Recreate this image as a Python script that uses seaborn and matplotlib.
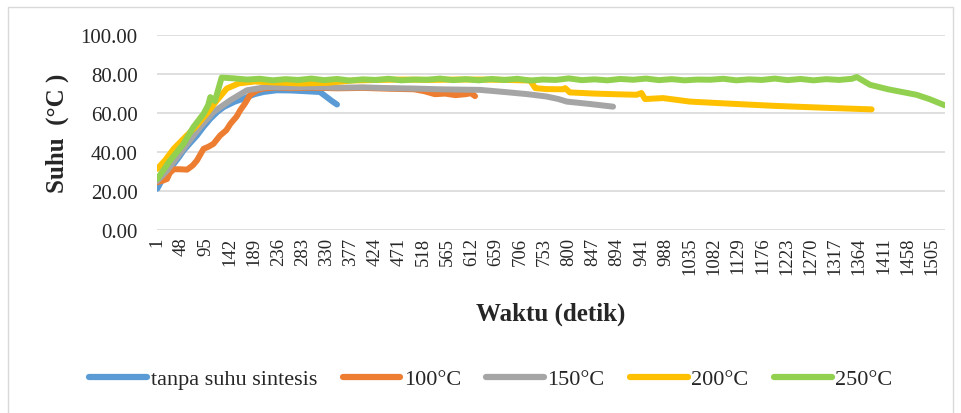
import numpy as np
import pandas as pd
import seaborn as sns
import matplotlib.pyplot as plt
from matplotlib.lines import Line2D

# data (waktu index, suhu in degC)
blue_t = [1, 13, 24, 33, 44, 52, 65, 78, 90, 104, 118, 130, 150, 168, 190, 207, 233, 260, 290, 317, 330, 340, 350]
blue_y = [21.0, 26.9, 30.5, 33.7, 37.5, 40.6, 44.5, 48.3, 52.5, 56.9, 60.5, 62.9, 65.5, 67.2, 69.5, 70.6, 71.5, 71.4, 71.0, 70.6, 68.0, 66.0, 64.2]

orange_t = [1, 10, 20, 25, 33, 45, 59, 70, 78, 91, 100, 110, 123, 135, 143, 155, 162, 172, 181, 195, 207, 230, 260,
            300, 350, 400, 450, 500, 520, 540, 560, 580, 600, 610, 618]
orange_y = [24.3, 25.0, 26.0, 29.0, 31.0, 31.0, 30.8, 33.0, 35.5, 41.5, 42.5, 44.0, 48.3, 51.0, 54.3, 58.0, 61.2, 65.0,
            69.0, 71.5, 72.4, 72.9, 72.6, 72.8, 72.5, 72.7, 72.3, 72.0, 71.0, 69.5, 69.8, 69.0, 69.5, 70.0, 68.5]

gray_t = [1, 20, 39, 59, 84, 110, 143, 175, 214, 260, 300, 350, 400, 450, 500, 550, 600, 628, 680, 720, 757, 780,
          796, 840, 886]
gray_y = [25.0, 30.3, 37.0, 44.0, 52.6, 60.3, 66.4, 71.5, 73.2, 73.0, 73.2, 72.8, 73.0, 72.6, 72.4, 72.0, 71.8, 71.7,
          70.5, 69.5, 68.3, 67.0, 65.7, 64.5, 63.1]

yellow_t = [1, 16, 33, 52, 78, 97, 117, 136, 159, 190, 230, 280, 330, 380, 430, 480, 530, 580, 630, 680, 725, 735,
            757, 790, 793, 802, 850, 900, 932, 941, 948, 983, 1035, 1100, 1200, 1300, 1388]
yellow_y = [31.2, 35.5, 41.5, 46.6, 53.5, 59.5, 66.4, 72.4, 75.0, 76.0, 75.5, 75.0, 75.3, 76.5, 76.8, 77.0, 76.8,
            77.0, 77.0, 76.8, 76.5, 72.6, 72.1, 72.0, 72.6, 70.4, 69.8, 69.4, 69.2, 70.1, 67.0, 67.5, 65.7, 64.8,
            63.5, 62.5, 61.7]

green_t = [1, 26, 52, 71, 91, 100, 104, 113, 126,
           150, 175, 200, 225, 250, 275, 300, 325, 350, 375, 400, 425, 450, 475, 500, 525, 550, 575, 600, 625,
           650, 675, 700, 725, 750, 775, 800, 825, 850, 875, 900, 925, 950, 975, 1000, 1025, 1050, 1075, 1100,
           1125, 1150, 1175, 1200, 1225, 1250, 1275, 1300, 1325, 1350,
           1359, 1385, 1420, 1475, 1500, 1530]
green_y = [26.0, 35.5, 44.0, 52.6, 59.5, 64.0, 68.0, 66.0, 78.0,
           77.6, 77.0, 77.4, 76.6, 77.2, 76.8, 77.5, 76.7, 77.3, 76.5, 77.1, 76.8, 77.4, 76.6, 77.0, 76.9, 77.5,
           76.7, 77.2, 76.6, 77.3, 76.8, 77.4, 76.5, 77.0, 76.8, 77.6, 76.7, 77.1, 76.6, 77.3, 76.9, 77.5, 76.7,
           77.2, 76.6, 77.0, 76.9, 77.4, 76.6, 77.1, 76.8, 77.5, 76.7, 77.3, 76.6, 77.2, 76.8, 77.4,
           78.3, 74.3, 72.0, 69.2, 67.0, 63.8]

series_names = ["tanpa suhu sintesis", "100°C", "150°C", "200°C", "250°C"]
series_colors = ["#5B9BD5", "#ED7D31", "#A5A5A5", "#FFC000", "#92D050"]

x_ticks = [1, 48, 95, 142, 189, 236, 283, 330, 377, 424, 471, 518, 565, 612, 659, 706, 753, 800, 847, 894,
           941, 988, 1035, 1082, 1129, 1176, 1223, 1270, 1317, 1364, 1411, 1458, 1505]
y_ticks = [0, 20, 40, 60, 80, 100]

frames = []
for name, t, y in zip(series_names,
                      [blue_t, orange_t, gray_t, yellow_t, green_t],
                      [blue_y, orange_y, gray_y, yellow_y, green_y]):
    frames.append(pd.DataFrame({"waktu": t, "suhu": y, "seri": name}))
df = pd.concat(frames, ignore_index=True)

sns.set_theme(style="white")
plt.rcParams["font.family"] = ["Liberation Serif", "DejaVu Serif"]

fig = plt.figure(figsize=(9.61, 4.14), dpi=100)
ax = fig.add_axes([157 / 961, 1 - 230.7 / 414, (945 - 157) / 961, 195 / 414])

sns.lineplot(data=df, x="waktu", y="suhu", hue="seri", hue_order=series_names,
             palette=series_colors, linewidth=4.3, estimator=None, sort=False,
             legend=False, ax=ax)
for ln in ax.get_lines():
    ln.set_solid_capstyle("round")
    ln.set_solid_joinstyle("round")

ax.set_xlim(0.5, 1530.5)
ax.set_ylim(0, 100)
ax.set_yticks(y_ticks)
ax.set_yticklabels(["%.2f" % v for v in y_ticks], fontsize=15)
ax.set_xticks(x_ticks)
ax.set_xticklabels([str(v) for v in x_ticks], rotation=90, fontsize=13.5)
ax.tick_params(axis="both", length=0)
ax.tick_params(axis="x", pad=5)
ax.tick_params(axis="y", pad=14)
ax.grid(axis="y", color="#D9D9D9", linewidth=1.2)
ax.grid(axis="x", visible=False)
for s in ax.spines.values():
    s.set_visible(False)
ax.set_axisbelow(True)

ax.set_xlabel("Waktu (detik)", fontsize=18, fontweight="bold", labelpad=20)
ax.set_ylabel("Suhu  (°C )", fontsize=18, fontweight="bold", labelpad=8)

handles = [Line2D([0], [0], color=c, linewidth=4.5, solid_capstyle="round") for c in series_colors]
fig.legend(handles, series_names, loc="center", bbox_to_anchor=(0.511, 0.082), ncol=5,
           frameon=False, fontsize=16, handlelength=2.6, handletextpad=0.15, columnspacing=1.15)

# outer chart border
fig.add_artist(Line2D([8 / 961, 8 / 961, 953 / 961, 953 / 961], [0, 1 - 8 / 414, 1 - 8 / 414, 0],
                      transform=fig.transFigure, color="#D9D9D9", linewidth=1))

fig.savefig("out.png", dpi=100)
